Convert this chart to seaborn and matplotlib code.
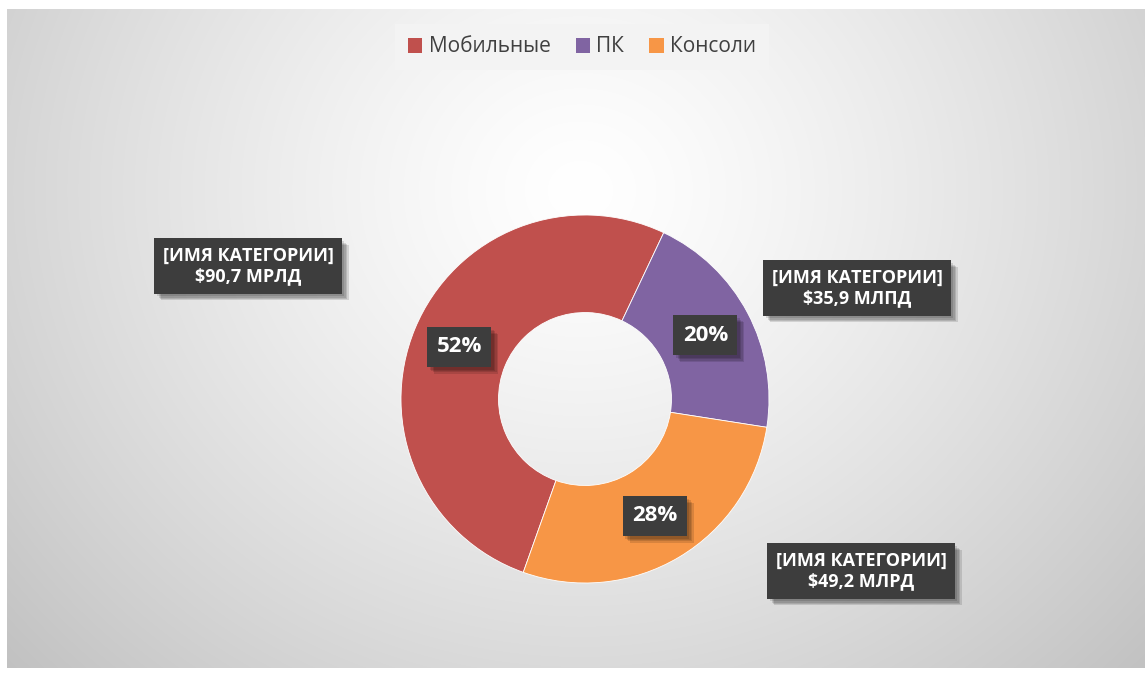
import numpy as np
import matplotlib
matplotlib.use("Agg")
import matplotlib.pyplot as plt
import matplotlib.patheffects as pe
import seaborn as sns

# =========================================================
# DATA
# =========================================================

categories = ["Мобильные", "ПК", "Консоли"]
values = [90.7, 35.9, 49.2]            # млрд $
units = ["МРЛД", "МЛПД", "МЛРД"]       # as printed on the chart
label_header = "[ИМЯ КАТЕГОРИИ]"

colors = ["#C0504D", "#8064A2", "#F79646"]

# =========================================================
# STYLE
# =========================================================

sns.set_theme(style="white")
plt.rcParams["font.family"] = ["Open Sans", "DejaVu Sans"]

W, H = 1145, 675
fig = plt.figure(figsize=(W / 100, H / 100), dpi=100)
fig.patch.set_facecolor("white")

# ---------------------------------------------------------
# radial gradient background of the chart area
# ---------------------------------------------------------

x0, x1, y0, y1 = 7, 1145, 9, 668
bg = fig.add_axes([x0 / W, 1 - y1 / H, (x1 - x0) / W, (y1 - y0) / H])
xx, yy = np.meshgrid(np.arange(x0, x1), np.arange(y0, y1))
dist = np.hypot(xx - 580, (yy - 190) * 1.1)
gray = np.clip(255 - 60 * (dist / 760) ** 1.3, 0, 255) / 255
bg.imshow(np.dstack([gray] * 3), aspect="auto", interpolation="bilinear")
bg.axis("off")

# ---------------------------------------------------------
# donut
# ---------------------------------------------------------

ax = fig.add_axes([0, 0, 1, 1])
ax.patch.set_alpha(0)

cx, cy, radius = 585, H - 399, 184
ring = 1 - 0.47

wedges, _, pct_texts = ax.pie(
    values,
    colors=colors,
    startangle=-109.6,
    counterclock=False,
    center=(cx, cy),
    radius=radius,
    autopct="%.0f%%",
    pctdistance=0.74,
    wedgeprops=dict(width=radius * ring, edgecolor="white", linewidth=0.6),
    textprops=dict(color="white", fontsize=16, fontweight="bold"),
)

box_style = dict(
    boxstyle="square,pad=0.42",
    facecolor="#3d3d3d",
    edgecolor="none",
)

# soft drop shadow (a few stacked offsets)
shadow = [
    pe.SimplePatchShadow(offset=(o, -o), shadow_rgbFace="#000000", alpha=0.12)
    for o in (5, 4, 3, 2)
] + [pe.Normal()]

for t in pct_texts:
    t.set_bbox(dict(box_style))
    t.get_bbox_patch().set_path_effects(shadow)

# ---------------------------------------------------------
# category labels (moved outside, as in the original)
# ---------------------------------------------------------

label_pos = [(248, H - 266), (857, H - 288), (861, H - 571)]

for val, unit, (lx, ly) in zip(values, units, label_pos):
    txt = f"{label_header}\n${val:.1f} {unit}".replace(".", ",")
    t = ax.text(
        lx, ly, txt,
        ha="center", va="center",
        color="white", fontsize=13, fontweight="bold",
        linespacing=1.2,
        bbox=dict(box_style, boxstyle="square,pad=0.45"),
    )
    t.get_bbox_patch().set_path_effects(shadow)

ax.set_xlim(0, W)
ax.set_ylim(0, H)
ax.set_aspect("equal")
ax.axis("off")

# ---------------------------------------------------------
# legend
# ---------------------------------------------------------

handles = [
    plt.Rectangle((0, 0), 1, 1, facecolor=c, edgecolor="none") for c in colors
]
leg = fig.legend(
    handles, categories,
    loc="center",
    bbox_to_anchor=(582 / W, 1 - 47 / H),
    ncol=3,
    frameon=True,
    fancybox=False,
    facecolor="#f3f3f3",
    edgecolor="none",
    fontsize=15,
    handlelength=0.7,
    handleheight=0.7,
    handletextpad=0.3,
    columnspacing=1.2,
    borderpad=0.6,
    borderaxespad=0,
)
leg.get_frame().set_alpha(1)
for t in leg.get_texts():
    t.set_color("#404040")

plt.savefig("out.png", dpi=100)
plt.close()
